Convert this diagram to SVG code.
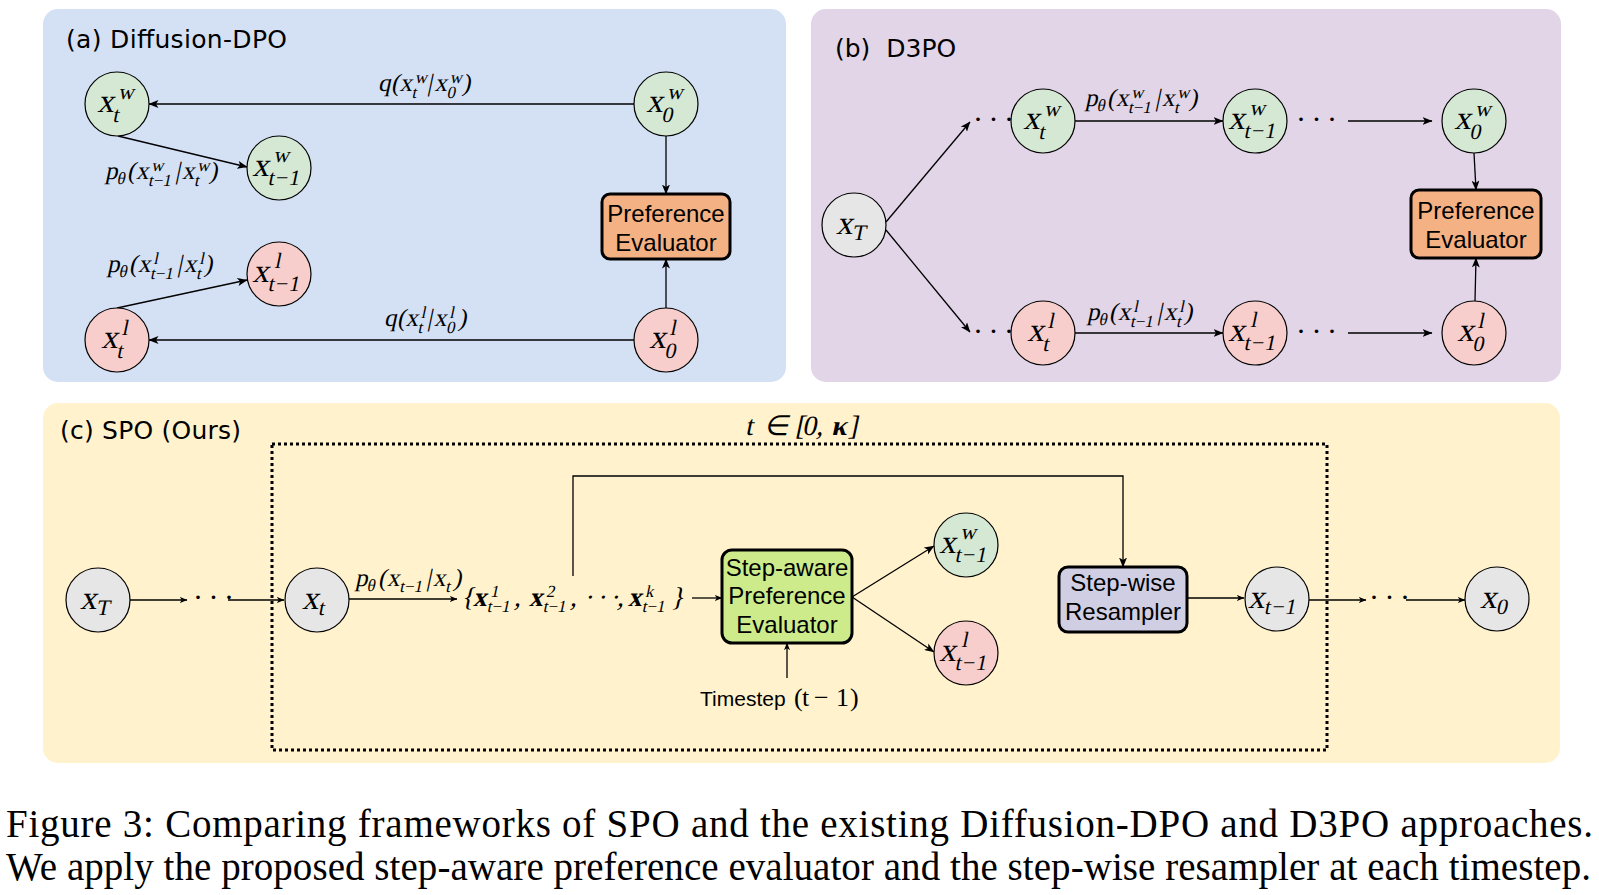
<svg xmlns="http://www.w3.org/2000/svg" width="1599" height="895" viewBox="0 0 1599 895">
<defs>
<style>
.pa{fill:#d4e1f5}
.pb{fill:#e1d5e7}
.pc{fill:#fff2cc}
.title{font-family:"DejaVu Sans",sans-serif;font-size:25px;fill:#000}
.nd{stroke:#000;stroke-width:1.2}
.g{fill:#d5e8d4}
.r{fill:#f8cecc}
.gr{fill:#e6e6e6}
.box{stroke:#000;stroke-width:3}
.orange{fill:#f4b183}
.green{fill:#cdeb8b}
.lav{fill:#d0cee2}
.bt{font-family:"Liberation Sans",Arial,sans-serif;font-size:24px;text-anchor:middle;fill:#000}
.sans{font-family:"Liberation Sans",Arial,sans-serif}
.m{font-family:"Liberation Serif","Times New Roman",serif;font-style:normal;fill:#000}
.n{font-size:33px}
.l{font-size:25px}
.s{font-size:22px}
.ls{font-size:17px}
.bd{font-weight:bold}
.c{fill:none;stroke:#000;stroke-width:1.3}
.dots{font-family:"Liberation Serif",serif;font-size:30px;letter-spacing:5.5px;fill:#000}
.cap{font-family:"Liberation Serif","Times New Roman",serif;font-size:39px;fill:#000}
</style>
<marker id="ah" viewBox="0 0 10 8" refX="9.5" refY="4" markerWidth="10" markerHeight="8" markerUnits="userSpaceOnUse" orient="auto"><path d="M0,0 L10,4 L0,8 L2.5,4 z" fill="#000"/></marker>
<marker id="ahs" viewBox="0 0 10 8" refX="9.5" refY="4" markerWidth="8" markerHeight="6" markerUnits="userSpaceOnUse" orient="auto"><path d="M0,0 L10,4 L0,8 L2.5,4 z" fill="#000"/></marker>
</defs>
<rect width="1599" height="895" fill="#fff"/>

<!-- panels -->
<g id="panel-a"><rect class="pa" x="43" y="9" width="743" height="373" rx="15"/><text class="title" x="66" y="48" textLength="221">(a) Diffusion-DPO</text></g>
<g id="panel-b"><rect class="pb" x="811" y="9" width="750" height="373" rx="15"/><text class="title" x="835" y="57" xml:space="preserve">(b)  D3PO</text></g>
<g id="panel-c"><rect class="pc" x="43" y="403" width="1517" height="360" rx="15"/><text class="title" x="60" y="439" textLength="181">(c) SPO (Ours)</text>
<rect x="272" y="444" width="1055" height="306" fill="none" stroke="#000" stroke-width="3" stroke-dasharray="3 3"/>
<text class="m" font-size="28" transform="translate(745,435) skewX(-12)"><tspan x="0" y="0">t</tspan><tspan x="19" y="0">∈</tspan><tspan x="50" y="0">[</tspan><tspan x="57" y="0">0</tspan><tspan x="71" y="0">,</tspan><tspan class="bd" x="86" y="0">κ</tspan><tspan x="103" y="0">]</tspan></text>
</g>

<!-- connectors -->
<g id="connectors">
<line class="c" x1="634" y1="104" x2="149" y2="104" marker-end="url(#ah)"/>
<line class="c" x1="118" y1="136" x2="247" y2="167" marker-end="url(#ah)"/>
<line class="c" x1="666" y1="136" x2="666" y2="194" marker-end="url(#ah)"/>
<line class="c" x1="666" y1="308" x2="666" y2="259" marker-end="url(#ah)"/>
<line class="c" x1="117" y1="308" x2="247" y2="280" marker-end="url(#ah)"/>
<line class="c" x1="634" y1="340" x2="149" y2="340" marker-end="url(#ah)"/>
<text class="m l" transform="translate(378,91) skewX(-12)"><tspan x="0" y="0">q</tspan><tspan x="13" y="0">(</tspan><tspan x="21.5" y="0">x</tspan><tspan class="ls" x="35" y="-8">w</tspan><tspan class="ls" x="35" y="7">t</tspan><tspan x="49" y="0">|</tspan><tspan x="56.5" y="0">x</tspan><tspan class="ls" x="70" y="-8">w</tspan><tspan class="ls" x="70" y="7">0</tspan><tspan x="84" y="0">)</tspan></text>
<text class="m l" transform="translate(384,326) skewX(-12)"><tspan x="0" y="0">q</tspan><tspan x="13" y="0">(</tspan><tspan x="21.5" y="0">x</tspan><tspan class="ls" x="35" y="-8">l</tspan><tspan class="ls" x="35" y="7">t</tspan><tspan x="43" y="0">|</tspan><tspan x="50" y="0">x</tspan><tspan class="ls" x="63.5" y="-8">l</tspan><tspan class="ls" x="63.5" y="7">0</tspan><tspan x="74" y="0">)</tspan></text>
<text class="m l" transform="translate(105,179) skewX(-12)"><tspan x="0" y="0">p</tspan><tspan class="ls" x="12.5" y="5">θ</tspan><tspan x="22" y="0">(</tspan><tspan x="31" y="0">x</tspan><tspan class="ls" x="44.5" y="-8">w</tspan><tspan class="ls" x="44.5" y="7">t−1</tspan><tspan x="70" y="0">|</tspan><tspan x="77" y="0">x</tspan><tspan class="ls" x="90.5" y="-8">w</tspan><tspan class="ls" x="90.5" y="7">t</tspan><tspan x="104" y="0">)</tspan></text>
<text class="m l" transform="translate(107,272) skewX(-12)"><tspan x="0" y="0">p</tspan><tspan class="ls" x="12.5" y="5">θ</tspan><tspan x="22" y="0">(</tspan><tspan x="31" y="0">x</tspan><tspan class="ls" x="44.5" y="-8">l</tspan><tspan class="ls" x="44.5" y="7">t−1</tspan><tspan x="70" y="0">|</tspan><tspan x="77" y="0">x</tspan><tspan class="ls" x="90.5" y="-8">l</tspan><tspan class="ls" x="90.5" y="7">t</tspan><tspan x="97" y="0">)</tspan></text>

<line class="c" x1="886" y1="222" x2="970" y2="122" marker-end="url(#ah)"/>
<line class="c" x1="886" y1="230" x2="970" y2="332" marker-end="url(#ah)"/>
<text class="dots" x="973" y="129">···</text>
<text class="dots" x="973" y="341">···</text>
<line class="c" x1="1075" y1="121" x2="1223" y2="121" marker-end="url(#ah)"/>
<line class="c" x1="1075" y1="333" x2="1223" y2="333" marker-end="url(#ah)"/>
<text class="dots" x="1296" y="129">···</text>
<text class="dots" x="1296" y="341">···</text>
<line class="c" x1="1348" y1="121" x2="1432" y2="121" marker-end="url(#ah)"/>
<line class="c" x1="1348" y1="333" x2="1432" y2="333" marker-end="url(#ah)"/>
<line class="c" x1="1474" y1="153" x2="1476" y2="190" marker-end="url(#ah)"/>
<line class="c" x1="1475" y1="301" x2="1476" y2="258" marker-end="url(#ah)"/>
<text class="m l" transform="translate(1085,106) skewX(-12)"><tspan x="0" y="0">p</tspan><tspan class="ls" x="12.5" y="5">θ</tspan><tspan x="22" y="0">(</tspan><tspan x="31" y="0">x</tspan><tspan class="ls" x="44.5" y="-8">w</tspan><tspan class="ls" x="44.5" y="7">t−1</tspan><tspan x="70" y="0">|</tspan><tspan x="77" y="0">x</tspan><tspan class="ls" x="90.5" y="-8">w</tspan><tspan class="ls" x="90.5" y="7">t</tspan><tspan x="104" y="0">)</tspan></text>
<text class="m l" transform="translate(1087,320) skewX(-12)"><tspan x="0" y="0">p</tspan><tspan class="ls" x="12.5" y="5">θ</tspan><tspan x="22" y="0">(</tspan><tspan x="31" y="0">x</tspan><tspan class="ls" x="44.5" y="-8">l</tspan><tspan class="ls" x="44.5" y="7">t−1</tspan><tspan x="70" y="0">|</tspan><tspan x="77" y="0">x</tspan><tspan class="ls" x="90.5" y="-8">l</tspan><tspan class="ls" x="90.5" y="7">t</tspan><tspan x="97" y="0">)</tspan></text>

<line class="c" x1="130" y1="600" x2="187" y2="600" marker-end="url(#ahs)"/>
<text class="dots" x="193" y="607">···</text>
<line class="c" x1="228" y1="600" x2="284" y2="600" marker-end="url(#ahs)"/>
<line class="c" x1="349" y1="599" x2="457" y2="599" marker-end="url(#ahs)"/>
<text class="m l" transform="translate(355,586) skewX(-12)"><tspan x="0" y="0">p</tspan><tspan class="ls" x="12.5" y="5">θ</tspan><tspan x="23" y="0">(</tspan><tspan x="32" y="0">x</tspan><tspan class="ls" x="45.5" y="6">t−1</tspan><tspan x="71" y="0">|</tspan><tspan x="78" y="0">x</tspan><tspan class="ls" x="91.5" y="6">t</tspan><tspan x="98" y="0">)</tspan></text>
<line class="c" x1="692" y1="598" x2="722" y2="598" marker-end="url(#ahs)"/>
<polyline class="c" points="573,576 573,476 1123,476 1123,567" marker-end="url(#ah)"/>
<line class="c" x1="852" y1="597" x2="934" y2="546" marker-end="url(#ah)"/>
<line class="c" x1="852" y1="597" x2="934" y2="652" marker-end="url(#ah)"/>
<line class="c" x1="787" y1="678" x2="787" y2="643" marker-end="url(#ahs)"/>
<line class="c" x1="1188" y1="598" x2="1244" y2="598" marker-end="url(#ahs)"/>
<line class="c" x1="1309" y1="600" x2="1366" y2="600" marker-end="url(#ahs)"/>
<text class="dots" x="1369" y="607">···</text>
<line class="c" x1="1406" y1="600" x2="1465" y2="600" marker-end="url(#ahs)"/>
</g>

<!-- panel (a) nodes -->
<g id="a-xtw"><ellipse class="nd g" cx="117" cy="104" rx="32" ry="32"/><text class="m n" transform="translate(117,104) skewX(-12)"><tspan x="-18" y="8">x</tspan><tspan class="s" x="0" y="-5">w</tspan><tspan class="s" x="-1" y="18">t</tspan></text></g>
<g id="a-xt1w"><ellipse class="nd g" cx="279" cy="168" rx="32" ry="32"/><text class="m n" transform="translate(279,168) skewX(-12)"><tspan x="-25" y="8">x</tspan><tspan class="s" x="-7" y="-6">w</tspan><tspan class="s" x="-8" y="17" letter-spacing="1">t−1</tspan></text></g>
<g id="a-x0w"><ellipse class="nd g" cx="666" cy="104" rx="32" ry="32"/><text class="m n" transform="translate(666,104) skewX(-12)"><tspan x="-18" y="8">x</tspan><tspan class="s" x="0" y="-5">w</tspan><tspan class="s" x="-1" y="18">0</tspan></text></g>
<g id="a-pref"><rect class="box orange" x="602" y="194" width="128" height="65" rx="8"/><text class="bt" x="666" y="222">Preference</text><text class="bt" x="666" y="251">Evaluator</text></g>
<g id="a-xt1l"><ellipse class="nd r" cx="279" cy="274" rx="32" ry="32"/><text class="m n" transform="translate(279,274) skewX(-12)"><tspan x="-25" y="8">x</tspan><tspan class="s" x="-6" y="-6">l</tspan><tspan class="s" x="-8" y="17" letter-spacing="1">t−1</tspan></text></g>
<g id="a-xtl"><ellipse class="nd r" cx="117" cy="340" rx="32" ry="32"/><text class="m n" transform="translate(117,340) skewX(-12)"><tspan x="-14" y="8">x</tspan><tspan class="s" x="3.5" y="-5">l</tspan><tspan class="s" x="3" y="18">t</tspan></text></g>
<g id="a-x0l"><ellipse class="nd r" cx="666" cy="340" rx="32" ry="32"/><text class="m n" transform="translate(666,340) skewX(-12)"><tspan x="-15" y="8">x</tspan><tspan class="s" x="2.5" y="-5">l</tspan><tspan class="s" x="2" y="18">0</tspan></text></g>

<!-- panel (b) nodes -->
<g id="b-xT"><ellipse class="nd gr" cx="854" cy="225" rx="32" ry="32"/><text class="m n" transform="translate(854,225) skewX(-12)"><tspan x="-16" y="9">x</tspan><tspan class="s" x="1" y="15">T</tspan></text></g>
<g id="b-xtw"><ellipse class="nd g" cx="1043" cy="121" rx="32" ry="32"/><text class="m n" transform="translate(1043,121) skewX(-12)"><tspan x="-18" y="8">x</tspan><tspan class="s" x="0" y="-5">w</tspan><tspan class="s" x="-1" y="18">t</tspan></text></g>
<g id="b-xt1w"><ellipse class="nd g" cx="1255" cy="121" rx="32" ry="32"/><text class="m n" transform="translate(1255,121) skewX(-12)"><tspan x="-25" y="8">x</tspan><tspan class="s" x="-7" y="-6">w</tspan><tspan class="s" x="-8" y="17" letter-spacing="1">t−1</tspan></text></g>
<g id="b-x0w"><ellipse class="nd g" cx="1474" cy="121" rx="32" ry="32"/><text class="m n" transform="translate(1474,121) skewX(-12)"><tspan x="-18" y="8">x</tspan><tspan class="s" x="0" y="-5">w</tspan><tspan class="s" x="-1" y="18">0</tspan></text></g>
<g id="b-pref"><rect class="box orange" x="1411" y="190" width="130" height="68" rx="8"/><text class="bt" x="1476" y="219">Preference</text><text class="bt" x="1476" y="248">Evaluator</text></g>
<g id="b-xtl"><ellipse class="nd r" cx="1043" cy="333" rx="32" ry="32"/><text class="m n" transform="translate(1043,333) skewX(-12)"><tspan x="-14" y="8">x</tspan><tspan class="s" x="3.5" y="-5">l</tspan><tspan class="s" x="3" y="18">t</tspan></text></g>
<g id="b-xt1l"><ellipse class="nd r" cx="1255" cy="333" rx="32" ry="32"/><text class="m n" transform="translate(1255,333) skewX(-12)"><tspan x="-25" y="8">x</tspan><tspan class="s" x="-6" y="-6">l</tspan><tspan class="s" x="-8" y="17" letter-spacing="1">t−1</tspan></text></g>
<g id="b-x0l"><ellipse class="nd r" cx="1474" cy="333" rx="32" ry="32"/><text class="m n" transform="translate(1474,333) skewX(-12)"><tspan x="-15" y="8">x</tspan><tspan class="s" x="2.5" y="-5">l</tspan><tspan class="s" x="2" y="18">0</tspan></text></g>

<!-- panel (c) nodes -->
<g id="c-xT"><ellipse class="nd gr" cx="98" cy="600" rx="32" ry="32"/><text class="m n" transform="translate(98,600) skewX(-12)"><tspan x="-16" y="9">x</tspan><tspan class="s" x="1" y="15">T</tspan></text></g>
<g id="c-xt"><ellipse class="nd gr" cx="317" cy="600" rx="32" ry="32"/><text class="m n" transform="translate(317,600) skewX(-12)"><tspan x="-13" y="9">x</tspan><tspan class="s" x="4" y="15">t</tspan></text></g>
<g id="c-set"><text class="m" font-size="27" transform="translate(461,606) skewX(-12)"><tspan x="0" y="0">{</tspan><tspan class="bd" x="12" y="0">x</tspan><tspan class="ls" x="27" y="-9">1</tspan><tspan class="ls" x="27" y="6">t−1</tspan><tspan x="53" y="0">,</tspan><tspan class="bd" x="68" y="0">x</tspan><tspan class="ls" x="83" y="-9">2</tspan><tspan class="ls" x="83" y="6">t−1</tspan><tspan x="109" y="0">,</tspan><tspan x="123" y="0" letter-spacing="4">···</tspan><tspan x="156" y="0">,</tspan><tspan class="bd" x="167" y="0">x</tspan><tspan class="ls" x="182" y="-9">k</tspan><tspan class="ls" x="182" y="6">t−1</tspan><tspan x="210" y="0">}</tspan></text></g>
<g id="c-stepaware"><rect class="box green" x="722" y="550" width="130" height="93" rx="10"/><text class="bt" x="787" y="576">Step-aware</text><text class="bt" x="787" y="604">Preference</text><text class="bt" x="787" y="633">Evaluator</text></g>
<g id="c-timestep"><text class="m" font-size="26"><tspan class="sans" font-size="21" x="700" y="706">Timestep</tspan><tspan x="794" y="706">(</tspan><tspan x="802" y="706">t</tspan><tspan x="814" y="706">−</tspan><tspan x="836" y="706">1</tspan><tspan x="850" y="706">)</tspan></text></g>
<g id="c-xt1w"><ellipse class="nd g" cx="966" cy="545" rx="32" ry="32"/><text class="m n" transform="translate(966,545) skewX(-12)"><tspan x="-25" y="8">x</tspan><tspan class="s" x="-7" y="-6">w</tspan><tspan class="s" x="-8" y="17" letter-spacing="1">t−1</tspan></text></g>
<g id="c-xt1l"><ellipse class="nd r" cx="966" cy="653" rx="32" ry="32"/><text class="m n" transform="translate(966,653) skewX(-12)"><tspan x="-25" y="8">x</tspan><tspan class="s" x="-6" y="-6">l</tspan><tspan class="s" x="-8" y="17" letter-spacing="1">t−1</tspan></text></g>
<g id="c-stepwise"><rect class="box lav" x="1059" y="567" width="128" height="65" rx="9"/><text class="bt" x="1123" y="591">Step-wise</text><text class="bt" x="1123" y="620">Resampler</text></g>
<g id="c-xt1"><ellipse class="nd gr" cx="1277" cy="599" rx="32" ry="32"/><text class="m n" transform="translate(1277,599) skewX(-12)"><tspan x="-27" y="9">x</tspan><tspan class="s" x="-10" y="15" letter-spacing="1">t−1</tspan></text></g>
<g id="c-x0"><ellipse class="nd gr" cx="1497" cy="599" rx="32" ry="32"/><text class="m n" transform="translate(1497,599) skewX(-12)"><tspan x="-15" y="9">x</tspan><tspan class="s" x="2" y="15">0</tspan></text></g>

<!-- caption -->
<g id="caption">
<text class="cap" x="6" y="837" textLength="1587">Figure 3: Comparing frameworks of SPO and the existing Diffusion-DPO and D3PO approaches.</text>
<text class="cap" x="6" y="880" textLength="1585">We apply the proposed step-aware preference evaluator and the step-wise resampler at each timestep.</text>
</g>
</svg>
